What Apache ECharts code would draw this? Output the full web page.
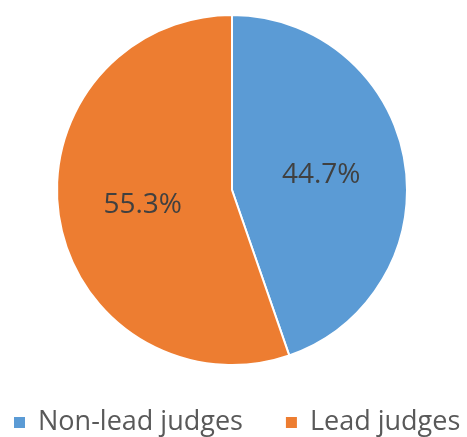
<!DOCTYPE html>
<html>
<head>
<meta charset="utf-8">
<script src="https://cdn.jsdelivr.net/npm/echarts@6/dist/echarts.min.js"></script>
<style>
  html, body { margin: 0; padding: 0; background: #fff; }
  #chart { width: 467px; height: 437px; }
</style>
</head>
<body>
<div id="chart"></div>
<script>
const categories = ['Non-lead judges', 'Lead judges']
const shares = [44.7, 55.3]
const colors = ['#5B9BD5', '#ED7D31']

const chart = echarts.init(document.getElementById('chart'))

chart.setOption({
  animation: false,
  color: colors,
  legend: {
    data: categories,
    top: 409,
    left: 12,
    padding: 0,
    icon: 'rect',
    itemWidth: 13,
    itemHeight: 13,
    itemGap: 41,
    textStyle: {
      fontFamily: 'Open Sans',
      fontSize: 27,
      color: '#595959',
      padding: [0, 0, 0, 7]
    }
  },
  series: [
    {
      type: 'pie',
      center: [232, 190],
      radius: 175,
      startAngle: 90,
      clockwise: true,
      data: categories.map((name, i) => ({ name, value: shares[i] })),
      itemStyle: {
        borderColor: '#fff',
        borderWidth: 2
      },
      label: {
        position: 'inside',
        formatter: (p) => p.value.toFixed(1) + '%',
        fontFamily: 'Open Sans',
        fontSize: 28,
        color: '#404040'
      },
      labelLine: { show: false },
      emphasis: { disabled: true }
    }
  ]
})
</script>
</body>
</html>
